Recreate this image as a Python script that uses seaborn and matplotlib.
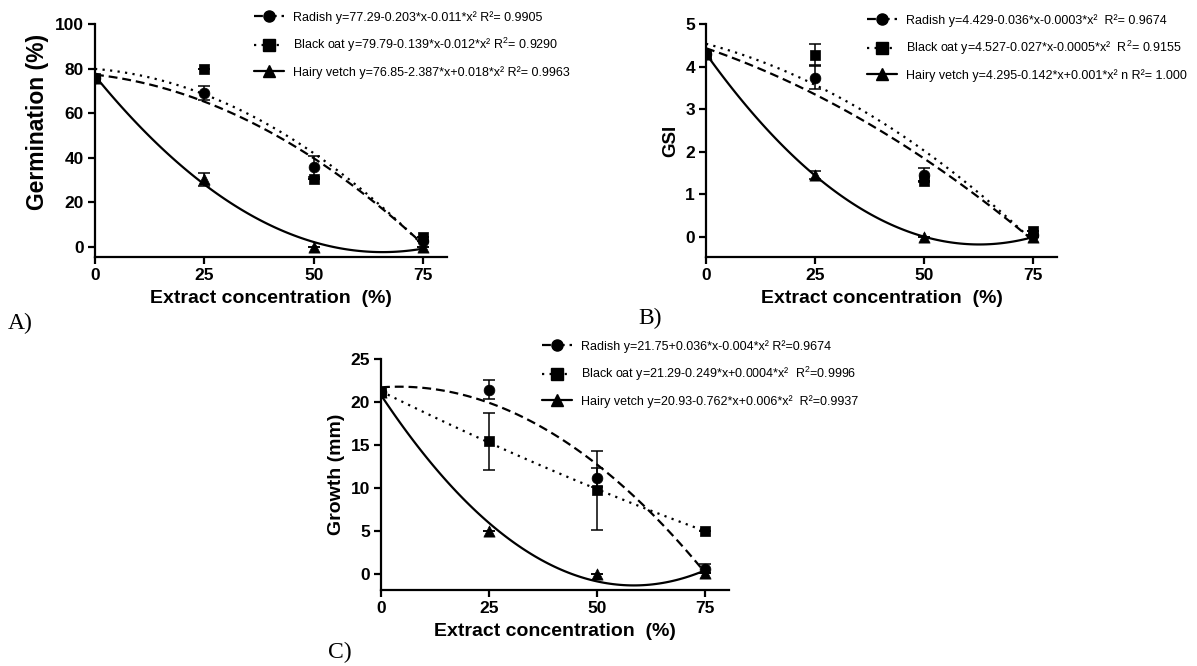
import numpy as np
import pandas as pd
import seaborn as sns
import matplotlib
matplotlib.use("Agg")
import matplotlib.pyplot as plt
from matplotlib.lines import Line2D

# ---------------- data ----------------
conc = [0, 25, 50, 75]
species = ["Radish", "Black oat", "Hairy vetch"]

# A) Germination (%)
germ_radish = [76, 69, 36, 2.5]
germ_radish_err = [0, 3.3, 4.8, 0]
germ_oat = [76, 80, 30.5, 4.6]
germ_oat_err = [0, 0, 0, 0]
germ_vetch = [76, 30.3, 0, 0]
germ_vetch_err = [0, 3, 0, 0]
germ_labels = [
    "Radish y=77.29-0.203*x-0.011*x\u00b2 R\u00b2= 0.9905",
    "Black oat y=79.79-0.139*x-0.012*x\u00b2 R$^2$= 0.9290",
    "Hairy vetch y=76.85-2.387*x+0.018*x\u00b2 R\u00b2= 0.9963",
]

# B) GSI
gsi_radish = [4.3, 3.74, 1.45, 0.05]
gsi_radish_err = [0, 0.27, 0.17, 0]
gsi_oat = [4.3, 4.28, 1.32, 0.14]
gsi_oat_err = [0, 0.25, 0, 0]
gsi_vetch = [4.3, 1.45, 0, 0]
gsi_vetch_err = [0, 0.1, 0, 0]
gsi_labels = [
    "Radish y=4.429-0.036*x-0.0003*x\u00b2  R\u00b2= 0.9674",
    "Black oat y=4.527-0.027*x-0.0005*x\u00b2  R$^2$= 0.9155",
    "Hairy vetch y=4.295-0.142*x+0.001*x\u00b2 n R\u00b2= 1.000",
]

# C) Growth (mm)
grow_radish = [21.2, 21.4, 11.2, 0.6]
grow_radish_err = [0, 1.1, 1.1, 0.5]
grow_oat = [21.2, 15.4, 9.7, 5.0]
grow_oat_err = [0, 3.3, 4.6, 0]
grow_vetch = [21.1, 5.0, 0, 0.1]
grow_vetch_err = [0, 0, 0, 0]
grow_labels = [
    "Radish y=21.75+0.036*x-0.004*x\u00b2 R\u00b2=0.9674",
    "Black oat y=21.29-0.249*x+0.0004*x\u00b2  R$^2$=0.9996",
    "Hairy vetch y=20.93-0.762*x+0.006*x\u00b2  R\u00b2=0.9937",
]

# ---------------- style ----------------
sns.set_theme(style="ticks")
plt.rcParams["font.family"] = ["Liberation Sans", "DejaVu Sans"]
plt.rcParams["mathtext.fontset"] = "custom"
plt.rcParams["mathtext.rm"] = "Liberation Sans"
for k in ["text.color", "axes.labelcolor", "xtick.color", "ytick.color",
          "xtick.labelcolor", "ytick.labelcolor", "axes.edgecolor"]:
    plt.rcParams[k] = "black"

W, H = 1197, 666
fig = plt.figure(figsize=(W / 100, H / 100), dpi=100)


def ax_at(left, top, right, bottom):
    return fig.add_axes([left / W, 1 - bottom / H, (right - left) / W, (bottom - top) / H])


markers = ["o", "s", "^"]
lstyles = [(0, (4, 2.2)), (0, (1, 2.4)), "-"]


def panel(ax, series, errs, ylim, yticks, ylabel, ylabsize, ylab_y, labels, leg_xy):
    for i, (ys, es) in enumerate(zip(series, errs)):
        df = pd.DataFrame({"x": conc, "y": ys})
        sns.regplot(data=df, x="x", y="y", order=2, ci=None, scatter=False, ax=ax,
                    line_kws=dict(color="black", lw=1.6, linestyle=lstyles[i]))
        ax.errorbar(conc, ys, yerr=es, fmt="none", ecolor="black", elinewidth=1.1,
                    capsize=4, capthick=1.1, zorder=3)
        sns.scatterplot(data=df, x="x", y="y", marker=markers[i], color="black",
                        edgecolor="black", s=60 if i != 2 else 65, ax=ax, zorder=4,
                        linewidth=0.5)
    ax.set_xlim(0, 80.5)
    ax.set_ylim(*ylim)
    ax.set_xticks(conc)
    ax.set_yticks(yticks)
    for s in ["top", "right"]:
        ax.spines[s].set_visible(False)
    for s in ["left", "bottom"]:
        ax.spines[s].set_linewidth(1.6)
        ax.spines[s].set_color("black")
    ax.tick_params(axis="both", length=5, width=1.6, color="black", labelcolor="black",
                   labelsize=12.5, pad=3)
    for lab in ax.get_xticklabels() + ax.get_yticklabels():
        lab.set_fontweight("bold")
    ax.set_xlabel("Extract concentration  (%)", fontsize=14, fontweight="bold", labelpad=5,
                  color="black")
    ax.set_ylabel(ylabel, fontsize=ylabsize, fontweight="bold", labelpad=4, color="black")
    ax.yaxis.label.set_y(ylab_y)
    ax.grid(False)

    handles = [Line2D([0], [0], color="black", lw=1.6, linestyle=lstyles[i],
                      marker=markers[i], markersize=8) for i in range(3)]
    fig.legend(handles, labels, loc="upper left",
               bbox_to_anchor=(leg_xy[0] / W, 1 - leg_xy[1] / H),
               frameon=False, fontsize=9, handlelength=2.4, handletextpad=0.7,
               labelspacing=0.95, borderpad=0, borderaxespad=0, labelcolor="black")


axA = ax_at(95, 24, 447, 257)
panel(axA, [germ_radish, germ_oat, germ_vetch],
      [germ_radish_err, germ_oat_err, germ_vetch_err],
      (-4.5, 100), [0, 20, 40, 60, 80, 100], "Germination (%)", 16.5, 0.58,
      germ_labels, (254, 11))

axB = ax_at(706, 24, 1057, 257)
panel(axB, [gsi_radish, gsi_oat, gsi_vetch],
      [gsi_radish_err, gsi_oat_err, gsi_vetch_err],
      (-0.47, 5), [0, 1, 2, 3, 4, 5], "GSI", 13.5, 0.5, gsi_labels, (867, 14))

axC = ax_at(381, 359, 729, 590)
panel(axC, [grow_radish, grow_oat, grow_vetch],
      [grow_radish_err, grow_oat_err, grow_vetch_err],
      (-1.9, 25), [0, 5, 10, 15, 20, 25], "Growth (mm)", 14, 0.5, grow_labels, (542, 340))

for txt, x, y in [("A)", 8, 323), ("B)", 638, 318), ("C)", 328, 652)]:
    fig.text(x / W, 1 - y / H, txt, fontsize=17, family=["Liberation Serif", "DejaVu Serif"],
             va="center", ha="left", color="black")

fig.savefig("out.png", dpi=100)
